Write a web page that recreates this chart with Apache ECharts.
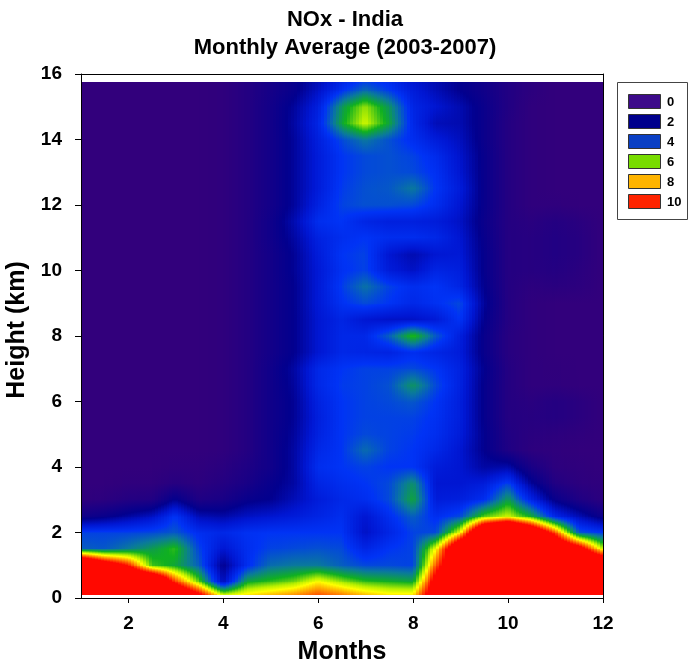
<!DOCTYPE html>
<html>
<head>
<meta charset="utf-8">
<script src="https://cdn.jsdelivr.net/npm/echarts@6/dist/echarts.min.js"></script>
<style>
  html, body { margin: 0; padding: 0; background: #fff; }
  #chart { width: 690px; height: 671px; }
</style>
</head>
<body>
<div id="chart"></div>
<script>
// Grid nodes: months (x) and heights in km (y)
const months = [1, 1.5, 2, 2.5, 3, 3.5, 4, 4.5, 5, 5.5, 6, 6.5, 7, 7.5, 8, 8.5, 9, 9.5, 10, 10.5, 11, 11.5, 12];
const heights = [0.1, 0.5, 1, 1.5, 2, 2.5, 3, 3.5, 4, 4.5, 5, 5.5, 6, 6.5, 7, 7.5, 8, 8.5,
                 9, 9.5, 10, 10.5, 11, 11.5, 12, 12.5, 13, 13.5, 14, 14.5, 15, 15.5, 15.75];

// NOx mixing ratio, one row per height (bottom to top), one column per month node
const nox = [
  [13, 13, 13, 13, 13, 10.5, 7.2, 7.8, 8.2, 8.6, 9.2, 8.8, 8.2, 7.8, 7.8, 12, 13, 13, 13, 13, 13, 13, 13],      // 0.1
  [13, 13, 14, 14, 9.5, 6.5, 2.6, 5.8, 6.2, 6.6, 7.6, 6.8, 6.2, 6.0, 5.8, 11, 13, 13, 13, 13, 13, 13, 13],       // 0.5
  [15, 12, 10, 6.3, 5.8, 4.6, 2.0, 3.8, 4.8, 5.0, 5.0, 4.6, 4.3, 4.3, 4.2, 9.2, 13, 13, 13, 13, 13, 13, 14],      // 1
  [4.6, 4.5, 5.0, 5.6, 6.2, 4.2, 3.0, 3.8, 4.2, 4.3, 4.4, 4.3, 3.5, 4.0, 4.2, 7.5, 13, 13, 13, 13, 13, 11.2, 7.0], // 1.5
  [4.2, 4.2, 4.2, 4.3, 4.5, 3.8, 3.6, 3.9, 4.0, 4.0, 4.0, 4.0, 2.8, 3.5, 4.2, 4.3, 7.5, 14, 16, 13, 9.3, 4.5, 4.0], // 2
  [1.5, 1.8, 2.3, 2.8, 4.0, 2.6, 2.4, 2.8, 3.0, 3.2, 3.5, 3.8, 3.0, 3.8, 4.6, 3.8, 4.3, 6.5, 7.2, 6.0, 3.6, 2.6, 1.6], // 2.5
  [0.4, 0.5, 0.8, 0.9, 2.0, 1.0, 1.2, 1.8, 2.0, 2.6, 3.2, 3.6, 3.8, 4.3, 5.8, 3.2, 3.3, 3.8, 5.6, 3.5, 1.8, 1.0, 0.5], // 3
  [0.3, 0.3, 0.4, 0.4, 0.7, 0.5, 0.8, 1.2, 1.8, 2.3, 3.5, 3.8, 4.0, 4.3, 5.4, 3.0, 3.0, 3.2, 4.2, 2.2, 0.9, 0.5, 0.4], // 3.5
  [0.3, 0.3, 0.3, 0.3, 0.4, 0.4, 0.6, 1.0, 1.5, 2.3, 3.8, 4.0, 4.2, 4.0, 4.0, 3.2, 3.0, 2.3, 2.4, 1.2, 0.5, 0.4, 0.3], // 4
  [0.3, 0.3, 0.3, 0.3, 0.3, 0.3, 0.4, 0.8, 1.5, 2.3, 3.6, 4.0, 4.8, 4.2, 4.0, 3.6, 3.0, 2.0, 1.0, 0.5, 0.4, 0.3, 0.3], // 4.5
  [0.3, 0.3, 0.3, 0.3, 0.3, 0.3, 0.4, 0.8, 1.5, 2.2, 3.4, 4.0, 4.3, 4.2, 4.1, 3.8, 3.2, 2.0, 0.9, 0.6, 0.5, 0.4, 0.3], // 5
  [0.3, 0.3, 0.3, 0.3, 0.3, 0.3, 0.4, 0.8, 1.5, 2.1, 3.3, 4.0, 4.2, 4.2, 4.2, 3.9, 3.3, 1.9, 0.8, 0.7, 0.8, 0.6, 0.3], // 5.5
  [0.3, 0.3, 0.3, 0.3, 0.3, 0.3, 0.4, 0.8, 1.5, 2.1, 3.4, 4.0, 4.2, 4.3, 4.5, 4.0, 3.3, 1.9, 0.8, 0.6, 0.8, 0.6, 0.3], // 6
  [0.3, 0.3, 0.3, 0.3, 0.3, 0.3, 0.4, 0.8, 1.5, 2.2, 3.6, 4.1, 4.2, 4.4, 5.5, 4.3, 3.4, 1.9, 0.8, 0.4, 0.4, 0.3, 0.3], // 6.5
  [0.3, 0.3, 0.3, 0.3, 0.3, 0.3, 0.4, 0.8, 1.5, 2.3, 3.6, 4.0, 4.2, 4.2, 4.3, 4.0, 3.4, 2.0, 0.8, 0.4, 0.35, 0.3, 0.3], // 7
  [0.3, 0.3, 0.3, 0.3, 0.3, 0.3, 0.4, 0.8, 1.4, 2.0, 3.0, 3.6, 3.5, 3.4, 3.8, 3.5, 3.2, 1.8, 0.7, 0.4, 0.3, 0.3, 0.3], // 7.5
  [0.3, 0.3, 0.3, 0.3, 0.3, 0.3, 0.4, 0.8, 1.4, 2.0, 3.0, 3.6, 3.6, 4.6, 6.2, 4.5, 3.3, 1.8, 0.7, 0.4, 0.3, 0.3, 0.3], // 8
  [0.3, 0.3, 0.3, 0.3, 0.3, 0.3, 0.4, 0.8, 1.4, 2.0, 3.0, 3.5, 3.0, 2.8, 2.8, 3.1, 4.0, 2.0, 0.8, 0.4, 0.3, 0.3, 0.3], // 8.5
  [0.3, 0.3, 0.3, 0.3, 0.3, 0.3, 0.4, 0.8, 1.4, 2.0, 3.1, 3.9, 4.3, 4.0, 3.6, 3.9, 4.3, 2.2, 0.8, 0.4, 0.3, 0.3, 0.3], // 9
  [0.3, 0.3, 0.3, 0.3, 0.3, 0.3, 0.4, 0.8, 1.4, 2.0, 3.1, 4.1, 4.9, 4.2, 3.8, 4.0, 3.5, 2.0, 0.8, 0.5, 0.6, 0.5, 0.3], // 9.5
  [0.3, 0.3, 0.3, 0.3, 0.3, 0.3, 0.4, 0.8, 1.4, 2.1, 3.1, 3.9, 4.2, 3.2, 2.8, 3.5, 3.3, 1.9, 0.8, 0.7, 0.8, 0.6, 0.3], // 10
  [0.3, 0.3, 0.3, 0.3, 0.3, 0.3, 0.4, 0.8, 1.4, 2.1, 3.2, 4.0, 4.2, 3.0, 2.5, 3.0, 3.1, 1.9, 0.8, 0.7, 0.9, 0.7, 0.3], // 10.5
  [0.3, 0.3, 0.3, 0.3, 0.3, 0.3, 0.4, 0.8, 1.5, 2.3, 3.4, 3.8, 4.0, 3.8, 3.8, 3.6, 3.0, 1.8, 0.8, 0.7, 0.9, 0.7, 0.3], // 11
  [0.3, 0.3, 0.3, 0.3, 0.3, 0.3, 0.4, 0.8, 1.5, 2.5, 3.8, 4.0, 3.5, 3.3, 3.3, 3.2, 2.8, 1.7, 0.8, 0.6, 0.8, 0.6, 0.3], // 11.5
  [0.3, 0.3, 0.3, 0.3, 0.3, 0.3, 0.4, 0.8, 1.4, 2.2, 3.4, 4.2, 4.4, 4.4, 4.3, 3.8, 3.0, 1.8, 0.8, 0.4, 0.4, 0.3, 0.3], // 12
  [0.3, 0.3, 0.3, 0.3, 0.3, 0.3, 0.4, 0.8, 1.4, 2.2, 3.2, 4.1, 4.4, 4.5, 5.0, 4.0, 3.2, 1.8, 0.8, 0.4, 0.3, 0.3, 0.3], // 12.5
  [0.3, 0.3, 0.3, 0.3, 0.3, 0.3, 0.4, 0.8, 1.4, 2.2, 3.2, 4.0, 4.3, 4.4, 4.3, 3.9, 3.0, 1.8, 0.8, 0.4, 0.3, 0.3, 0.3], // 13
  [0.3, 0.3, 0.3, 0.3, 0.3, 0.3, 0.4, 0.8, 1.4, 2.2, 3.2, 4.0, 4.3, 4.4, 4.2, 3.7, 2.9, 1.8, 0.8, 0.4, 0.3, 0.3, 0.3], // 13.5
  [0.3, 0.3, 0.3, 0.3, 0.3, 0.3, 0.4, 0.8, 1.4, 2.2, 3.3, 4.3, 5.0, 4.4, 3.8, 3.2, 2.7, 1.7, 0.8, 0.4, 0.3, 0.3, 0.3], // 14
  [0.3, 0.3, 0.3, 0.3, 0.3, 0.3, 0.4, 0.8, 1.4, 2.3, 3.5, 5.8, 7.2, 5.8, 3.6, 2.6, 2.5, 1.7, 0.8, 0.4, 0.3, 0.3, 0.3], // 14.5
  [0.3, 0.3, 0.3, 0.3, 0.3, 0.3, 0.4, 0.8, 1.4, 2.2, 3.3, 5.5, 6.8, 5.5, 3.5, 3.0, 2.5, 1.7, 0.9, 0.4, 0.3, 0.3, 0.3], // 15
  [0.3, 0.3, 0.3, 0.3, 0.3, 0.3, 0.4, 0.8, 1.3, 1.8, 2.8, 3.9, 4.8, 4.1, 3.2, 2.6, 2.0, 1.5, 0.9, 0.5, 0.3, 0.3, 0.3], // 15.5
  [0.3, 0.3, 0.3, 0.3, 0.3, 0.3, 0.4, 0.8, 1.3, 1.8, 2.6, 3.5, 4.2, 3.8, 3.0, 2.5, 2.0, 1.5, 0.9, 0.5, 0.3, 0.3, 0.3]  // 15.75
];

const legendLevels = [0, 2, 4, 6, 8, 10];
const legendColors = ['#3c0a8a', '#00008c', '#0a3fc4', '#78dc00', '#ffb400', '#ff2400'];
const xTickValues = [2, 4, 6, 8, 10, 12];

// Contour colour ramp (value -> colour), clamped at both ends
const rampStops = [
  [0, '#3a0078'], [1, '#1e0084'], [2, '#02008e'], [3, '#0016d2'], [4, '#0033f5'],
  [5, '#0a7a9a'], [6, '#10b020'], [7, '#b8f000'], [7.6, '#ffff00'], [8.3, '#ffb000'],
  [9.2, '#ff5000'], [10, '#ff0800']
];
const FONT = '"Liberation Sans", Arial, Helvetica, sans-serif';

function hexRgb(h) {
  const n = parseInt(h.slice(1), 16);
  return [(n >> 16) & 255, (n >> 8) & 255, n & 255];
}
const ramp = rampStops.map(s => [s[0], hexRgb(s[1])]);
function rgbStr(c) {
  return 'rgb(' + Math.round(c[0]) + ',' + Math.round(c[1]) + ',' + Math.round(c[2]) + ')';
}
function colorAt(v) {
  if (v <= ramp[0][0]) return rgbStr(ramp[0][1]);
  const last = ramp[ramp.length - 1];
  if (v >= last[0]) return rgbStr(last[1]);
  for (let k = 1; k < ramp.length; k++) {
    if (v <= ramp[k][0]) {
      const a = ramp[k - 1], b = ramp[k];
      const t = (v - a[0]) / (b[0] - a[0]);
      return rgbStr(a[1].map((c, q) => c + (b[1][q] - c) * t));
    }
  }
  return rgbStr(last[1]);
}
// Vertical fill for one strip whose value runs linearly from vTop to vBot
function stripFill(vTop, vBot) {
  if (Math.abs(vTop - vBot) < 1e-6) return colorAt(vTop);
  const stops = [{ offset: 0, color: colorAt(vTop) }];
  const lo = Math.min(vTop, vBot), hi = Math.max(vTop, vBot);
  ramp.forEach(s => {
    if (s[0] > lo && s[0] < hi) {
      stops.push({ offset: (vTop - s[0]) / (vTop - vBot), color: colorAt(s[0]) });
    }
  });
  stops.push({ offset: 1, color: colorAt(vBot) });
  stops.sort((a, b) => a.offset - b.offset);
  return new echarts.graphic.LinearGradient(0, 0, 0, 1, stops);
}

// One item per grid cell (lower-left node)
const cells = [];
for (let j = 0; j < heights.length - 1; j++) {
  for (let i = 0; i < months.length - 1; i++) {
    cells.push([months[i], heights[j], nox[j][i], i, j]);
  }
}

const STRIPS = 8;
function renderCell(params, api) {
  const i = api.value(3), j = api.value(4);
  const p0 = api.coord([months[i], heights[j]]);
  const p1 = api.coord([months[i + 1], heights[j + 1]]);
  const v00 = nox[j][i], v10 = nox[j][i + 1], v01 = nox[j + 1][i], v11 = nox[j + 1][i + 1];
  const x0 = p0[0], x1 = p1[0];
  // whole-pixel edges so neighbouring strips meet without seams
  const yTop = Math.floor(p1[1]), yBot = Math.ceil(p0[1]);
  const w = (x1 - x0) / STRIPS;
  const children = [];
  for (let s = 0; s < STRIPS; s++) {
    const t = (s + 0.5) / STRIPS;
    const vb = v00 + (v10 - v00) * t;
    const vt = v01 + (v11 - v01) * t;
    const xa = Math.floor(x0 + w * s), xb = Math.ceil(x0 + w * (s + 1));
    children.push({
      type: 'rect',
      shape: { x: xa, y: yTop, width: xb - xa, height: yBot - yTop },
      style: { fill: stripFill(vt, vb) },
      silent: true
    });
  }
  return { type: 'group', children };
}

const boldText = size => ({ fontFamily: FONT, fontWeight: 'bold', fontSize: size, color: '#000' });

const chart = echarts.init(document.getElementById('chart'), null, { renderer: 'canvas' });
chart.setOption({
  animation: false,
  backgroundColor: '#fff',
  title: {
    text: 'NOx - India\nMonthly Average (2003-2007)',
    left: 'center',
    top: 1,
    textStyle: Object.assign(boldText(22), { lineHeight: 28 })
  },
  grid: { left: 81, right: 87, top: 74, bottom: 73, containLabel: false, outerBoundsMode: 'none' },
  xAxis: [
    {
      type: 'value', min: 1, max: 12, position: 'bottom', z: 5,
      name: 'Months', nameLocation: 'middle', nameGap: 42, nameTextStyle: boldText(25),
      axisLine: { show: true, onZero: false, lineStyle: { color: '#000', width: 1 } },
      axisTick: { show: true, length: 5, customValues: xTickValues, lineStyle: { color: '#000' } },
      axisLabel: Object.assign(boldText(19), { customValues: xTickValues, margin: 16 }),
      splitLine: { show: false }
    },
    {
      type: 'value', min: 1, max: 12, position: 'top', z: 5,
      axisLine: { show: true, onZero: false, lineStyle: { color: '#000', width: 1 } },
      axisTick: { show: false }, axisLabel: { show: false }, splitLine: { show: false }
    }
  ],
  yAxis: [
    {
      type: 'value', min: 0, max: 16, interval: 2, position: 'left', z: 5,
      name: 'Height (km)', nameLocation: 'middle', nameGap: 44, nameRotate: 90,
      nameTextStyle: Object.assign(boldText(25), { padding: [0, 0, 0, 12] }),
      axisLine: { show: true, onZero: false, lineStyle: { color: '#000', width: 1 } },
      axisTick: { show: true, length: 6, lineStyle: { color: '#000' } },
      axisLabel: Object.assign(boldText(19), { margin: 19 }),
      splitLine: { show: false }
    },
    {
      type: 'value', min: 0, max: 16, interval: 2, position: 'right', z: 5,
      axisLine: { show: true, onZero: false, lineStyle: { color: '#000', width: 1 } },
      axisTick: { show: false }, axisLabel: { show: false }, splitLine: { show: false }
    }
  ],
  series: [{
    type: 'custom',
    coordinateSystem: 'cartesian2d',
    xAxisIndex: 0,
    yAxisIndex: 0,
    renderItem: renderCell,
    data: cells,
    encode: { x: 0, y: 1 },
    clip: true,
    silent: true,
    progressive: 0,
    z: 2
  }],
  graphic: [
    {
      type: 'rect', z: 10,
      shape: { x: 617.5, y: 82.5, width: 70, height: 137 },
      style: { fill: '#fff', stroke: '#444', lineWidth: 1 }
    }
  ].concat(legendLevels.map((lv, k) => ({
    type: 'rect', z: 11,
    shape: { x: 628.5, y: 94.5 + 20 * k, width: 32, height: 14 },
    style: { fill: legendColors[k], stroke: '#333', lineWidth: 1 }
  }))).concat(legendLevels.map((lv, k) => ({
    type: 'text', z: 11,
    x: 667, y: 102 + 20 * k,
    style: { text: String(lv), fill: '#000', font: 'bold 13px ' + FONT, verticalAlign: 'middle', align: 'left' }
  })))
});
</script>
</body>
</html>
